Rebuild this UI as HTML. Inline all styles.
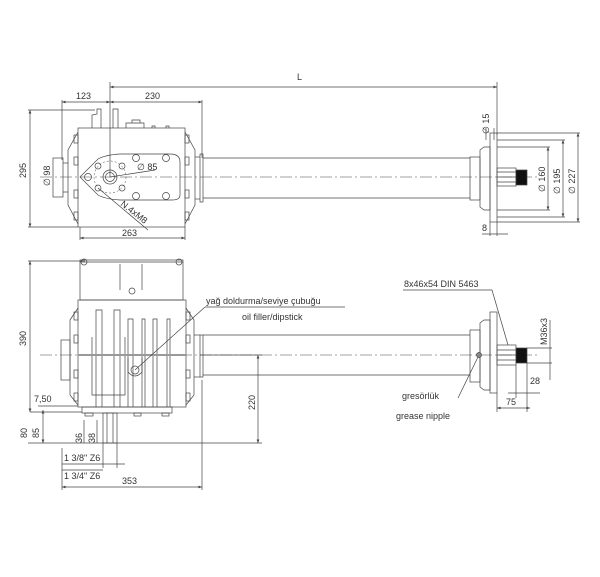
<!DOCTYPE html>
<html><head><meta charset="utf-8"><style>
html,body{margin:0;padding:0;background:#fff;}
svg{display:block;font-family:"Liberation Sans",sans-serif;}
text{font-size:9px;fill:#333;}
</style></head><body>
<svg width="600" height="577" viewBox="0 0 600 577" xmlns="http://www.w3.org/2000/svg">
<defs>
<marker id="a" markerWidth="6" markerHeight="6" refX="5" refY="3" orient="auto-start-reverse"><path d="M0,1 L5,3 L0,5" fill="#444"/></marker>
</defs>
<g stroke="#444" stroke-width="0.7" fill="none">
<!-- ===== TOP VIEW ===== -->
<!-- center line -->
<line x1="40" y1="177" x2="540" y2="177" stroke-dasharray="12,3,2,3" stroke-width="0.5"/>
<!-- L -->
<line x1="110" y1="82" x2="110" y2="177"/>
<line x1="497" y1="82" x2="497" y2="135"/>
<line x1="110" y1="87" x2="497" y2="87" marker-start="url(#a)" marker-end="url(#a)"/>
<!-- 123 / 230 -->
<line x1="62" y1="100" x2="62" y2="160"/>
<line x1="202" y1="100" x2="202" y2="158"/>
<line x1="62" y1="102" x2="110" y2="102" marker-start="url(#a)" marker-end="url(#a)"/>
<line x1="110" y1="102" x2="202" y2="102" marker-start="url(#a)" marker-end="url(#a)"/>
<!-- 295 -->
<line x1="28" y1="110" x2="95" y2="110"/>
<line x1="28" y1="227" x2="78" y2="227"/>
<line x1="30" y1="110" x2="30" y2="227" marker-start="url(#a)" marker-end="url(#a)"/>
<!-- body -->
<rect x="78" y="128" width="107" height="99"/>
<path d="M92,128 V115 L97,114 V109 H101 V128 M113,128 V109 H118 V128"/>
<path d="M126,128 V123 H144 V128 M132,123 V120 H140 V123"/>
<path d="M152,128 V126 H155 V128 M166,128 V126 H169 V128"/>
<path d="M78,132 L68,150 V205 L78,224"/>
<path d="M185,132 L195,150 V205 L185,224"/>
<rect x="74" y="135" width="4" height="8"/><rect x="74" y="157" width="4" height="8"/><rect x="74" y="190" width="4" height="8"/><rect x="74" y="212" width="4" height="8"/>
<rect x="185" y="135" width="4" height="8"/><rect x="185" y="157" width="4" height="8"/><rect x="185" y="190" width="4" height="8"/><rect x="185" y="212" width="4" height="8"/>
<rect x="53" y="158" width="10" height="39"/>
<line x1="63" y1="163" x2="68" y2="163"/><line x1="63" y1="192" x2="68" y2="192"/>
<!-- plate -->
<path d="M80,177 L98,159 Q105,155 120,154 H170 Q180,154 180,162 V195 Q180,200 172,200 H120 Q105,199 98,195 Z"/>
<circle cx="88" cy="177" r="3.5"/>
<circle cx="98" cy="166" r="3"/><circle cx="122" cy="166" r="3"/><circle cx="98" cy="188" r="3"/><circle cx="122" cy="188" r="3"/>
<circle cx="136" cy="158" r="3.5"/><circle cx="166" cy="158" r="3.5"/><circle cx="136" cy="196" r="3.5"/><circle cx="166" cy="196" r="3.5"/>
<circle cx="110" cy="177" r="7"/><circle cx="110" cy="177" r="4.5"/>
<circle cx="110" cy="177" r="16" stroke-dasharray="2,2" stroke-width="0.5"/>
<line x1="110" y1="177" x2="155" y2="170"/>
<line x1="98" y1="188" x2="148" y2="230"/>
<!-- shaft -->
<line x1="195" y1="157" x2="200" y2="157"/><line x1="195" y1="199" x2="200" y2="199"/>
<rect x="200" y="154" width="3" height="48"/>
<line x1="203" y1="158" x2="470" y2="158"/><line x1="203" y1="198" x2="470" y2="198"/>
<!-- right flange top -->
<rect x="470" y="157" width="10" height="43"/>
<path d="M480,150 L484,147 H490 V210 H484 L480,207 Z"/>
<rect x="490" y="133" width="7" height="89"/>
<rect x="497" y="168" width="19" height="18"/>
<line x1="497" y1="172" x2="516" y2="172"/><line x1="497" y1="177" x2="516" y2="177"/><line x1="497" y1="182" x2="516" y2="182"/>
<rect x="516" y="170" width="11" height="15" fill="#111"/>
<!-- dia dims -->
<line x1="497" y1="147" x2="550" y2="147"/><line x1="497" y1="210" x2="550" y2="210"/>
<line x1="548" y1="147" x2="548" y2="210" marker-start="url(#a)" marker-end="url(#a)"/>
<line x1="497" y1="140" x2="565" y2="140"/><line x1="497" y1="217" x2="565" y2="217"/>
<line x1="563" y1="140" x2="563" y2="217" marker-start="url(#a)" marker-end="url(#a)"/>
<line x1="497" y1="133" x2="580" y2="133"/><line x1="497" y1="222" x2="580" y2="222"/>
<line x1="578" y1="133" x2="578" y2="222" marker-start="url(#a)" marker-end="url(#a)"/>
<line x1="486" y1="128" x2="486" y2="140"/><line x1="494" y1="128" x2="494" y2="140"/>
<!-- 8 -->
<line x1="490" y1="222" x2="490" y2="236"/><line x1="497" y1="222" x2="497" y2="236"/>
<line x1="482" y1="234" x2="508" y2="234"/>
<!-- 263 -->
<line x1="80" y1="227" x2="80" y2="240"/><line x1="185" y1="227" x2="185" y2="240"/>
<line x1="80" y1="238" x2="185" y2="238" marker-start="url(#a)" marker-end="url(#a)"/>

<!-- ===== BOTTOM VIEW ===== -->
<line x1="40" y1="355" x2="540" y2="355" stroke-dasharray="12,3,2,3" stroke-width="0.5"/>
<!-- 390 -->
<line x1="28" y1="261" x2="85" y2="261"/>
<line x1="30" y1="261" x2="30" y2="412" marker-start="url(#a)" marker-end="url(#a)"/>
<!-- cap -->
<rect x="80" y="260" width="103" height="40"/>
<line x1="80" y1="262" x2="183" y2="262"/>
<line x1="120" y1="264" x2="120" y2="290"/><line x1="142" y1="264" x2="142" y2="290"/>
<circle cx="84" cy="262" r="3"/><circle cx="179" cy="262" r="3"/><circle cx="132" cy="291" r="3"/>
<!-- body -->
<rect x="78" y="300" width="108" height="107"/>
<path d="M78,308 L70,320 V395 L78,405"/><path d="M186,308 L194,320 V395 L186,405"/>
<rect x="61" y="340" width="9" height="40"/>
<rect x="200" y="335" width="3" height="42"/>
<line x1="194" y1="335" x2="200" y2="335"/><line x1="194" y1="377" x2="200" y2="377"/>
<rect x="74" y="312" width="4" height="8"/><rect x="74" y="335" width="4" height="8"/><rect x="74" y="370" width="4" height="8"/><rect x="74" y="393" width="4" height="8"/>
<rect x="186" y="312" width="4" height="8"/><rect x="186" y="335" width="4" height="8"/><rect x="186" y="370" width="4" height="8"/><rect x="186" y="393" width="4" height="8"/>
<path d="M96,407 V310 H102 V407 M114,407 V310 H120 V407"/>
<path d="M128,407 V319 H133 V407 M142,407 V319 H145 V407 M153,407 V319 H157 V407 M167,407 V319 H170 V407"/>
<path d="M92,337 V395 H125 V337"/>
<line x1="78" y1="355" x2="186" y2="355" stroke-width="2" stroke="#999"/>
<path d="M128,358 V372 Q135,380 142,372 V358"/>
<circle cx="135" cy="370" r="4"/>
<!-- bottom plate & shaft -->
<rect x="82" y="407" width="90" height="6"/>
<rect x="85" y="413" width="8" height="3"/><rect x="134" y="413" width="7" height="3"/><rect x="162" y="413" width="7" height="3"/>
<rect x="103" y="413" width="14" height="30"/>
<line x1="107" y1="413" x2="107" y2="443"/><line x1="113" y1="413" x2="113" y2="443"/>
<!-- shaft -->
<line x1="203" y1="335" x2="470" y2="335"/><line x1="203" y1="375" x2="470" y2="375"/>
<rect x="470" y="330" width="10" height="52"/>
<path d="M480,323 L484,320 H490 V390 H484 L480,387 Z"/>
<rect x="490" y="312" width="7" height="81"/>
<rect x="497" y="345" width="19" height="20"/>
<line x1="497" y1="350" x2="516" y2="350"/><line x1="497" y1="355" x2="516" y2="355"/><line x1="497" y1="360" x2="516" y2="360"/>
<rect x="516" y="348" width="11" height="15" fill="#111"/>
<circle cx="479" cy="355" r="2.5" fill="#888"/>
<!-- leaders -->
<line x1="135" y1="370" x2="205" y2="307"/><line x1="205" y1="307" x2="345" y2="307"/>
<line x1="403" y1="290" x2="492" y2="290"/><line x1="492" y1="290" x2="508" y2="345"/>
<line x1="458" y1="398" x2="478" y2="357"/>
<!-- M36x3 -->
<line x1="527" y1="348" x2="552" y2="348"/><line x1="527" y1="363" x2="552" y2="363"/>
<line x1="550" y1="320" x2="550" y2="380"/>
<!-- 28, 75 -->
<line x1="516" y1="365" x2="516" y2="398"/><line x1="527" y1="363" x2="527" y2="412"/>
<line x1="508" y1="393" x2="540" y2="393"/>
<line x1="497" y1="393" x2="497" y2="412"/>
<line x1="497" y1="408" x2="530" y2="408" marker-start="url(#a)" marker-end="url(#a)"/>
<!-- 220 -->
<line x1="200" y1="355" x2="262" y2="355"/>
<line x1="258" y1="355" x2="258" y2="443" marker-start="url(#a)" marker-end="url(#a)"/>
<!-- bottom dims -->
<line x1="30" y1="412" x2="82" y2="412"/>
<line x1="28" y1="443" x2="262" y2="443"/>
<line x1="38" y1="406" x2="78" y2="406"/>
<line x1="43" y1="410" x2="43" y2="443" marker-start="url(#a)" marker-end="url(#a)"/>
<line x1="84" y1="420" x2="84" y2="443"/>
<line x1="97" y1="420" x2="97" y2="443"/>
<line x1="103" y1="443" x2="103" y2="468"/><line x1="117" y1="443" x2="117" y2="468"/>
<line x1="62" y1="464" x2="125" y2="464"/>
<line x1="62" y1="470" x2="103" y2="470"/>
<line x1="62" y1="448" x2="62" y2="490"/><line x1="202" y1="380" x2="202" y2="490"/>
<line x1="62" y1="487" x2="202" y2="487" marker-start="url(#a)" marker-end="url(#a)"/>
</g>
<!-- TEXT -->
<text x="297" y="80">L</text>
<text x="76" y="99">123</text>
<text x="145" y="99">230</text>
<text transform="translate(26,178) rotate(-90)">295</text>
<text transform="translate(50,186) rotate(-90)">∅ 98</text>
<text x="137" y="170">∅ 85</text>
<text transform="translate(120,205) rotate(38)">N.4xM8</text>
<text x="122" y="236">263</text>
<text transform="translate(489,134) rotate(-90)">∅ 15</text>
<text transform="translate(545,192) rotate(-90)">∅ 160</text>
<text transform="translate(560,194) rotate(-90)">∅ 195</text>
<text transform="translate(575,194) rotate(-90)">∅ 227</text>
<text x="482" y="231">8</text>
<text transform="translate(26,346) rotate(-90)">390</text>
<text x="206" y="304">yağ doldurma/seviye çubuğu</text>
<text x="242" y="320">oil filler/dipstick</text>
<text x="404" y="287">8x46x54 DIN 5463</text>
<text transform="translate(547,345) rotate(-90)">M36x3</text>
<text x="530" y="384">28</text>
<text x="506" y="405">75</text>
<text x="402" y="399">gresörlük</text>
<text x="396" y="419">grease nipple</text>
<text transform="translate(255,410) rotate(-90)">220</text>
<text x="34" y="402">7,50</text>
<text transform="translate(27,438) rotate(-90)">80</text>
<text transform="translate(39,438) rotate(-90)">85</text>
<text transform="translate(82,443) rotate(-90)">36</text>
<text transform="translate(95,443) rotate(-90)">38</text>
<text x="64" y="461">1 3/8" Z6</text>
<text x="64" y="479">1 3/4" Z6</text>
<text x="122" y="484">353</text>
</svg>
</body></html>
